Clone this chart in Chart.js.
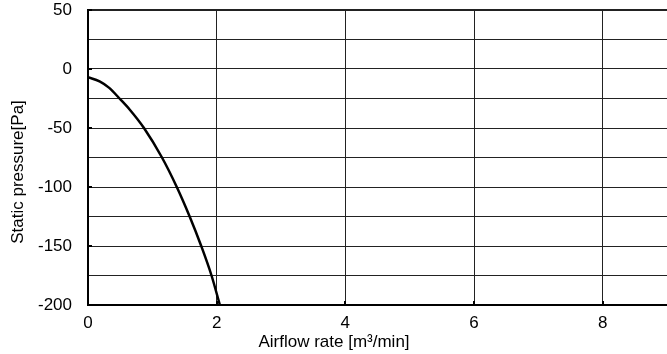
<!DOCTYPE html>
<html>
<head>
<meta charset="utf-8">
<script src="https://cdn.jsdelivr.net/npm/chart.js@4"></script>
<style>
  html, body { margin: 0; padding: 0; background: #fff; }
  .wrap { width: 667px; height: 354px; }
</style>
</head>
<body>
<div class="wrap"><canvas id="chart" width="667" height="354"></canvas></div>
<script>
const airflow = [0, 0.18, 0.33, 0.49, 0.65, 0.87, 1.15, 1.38, 1.58, 1.76, 1.92, 2.05];
const pressure = [-7, -10.5, -16, -25, -34.5, -50, -75, -100, -125, -150, -175, -200];
const xTitle = 'Airflow rate [m\u00B3/min]';
const yTitle = 'Static pressure[Pa]';
const FONT = '"Liberation Sans", Arial, sans-serif';

// axis titles and small inside tick marks
const extras = {
    id: 'extras',
    afterDraw(chart) {
        const ctx = chart.ctx;
        const area = chart.chartArea;
        const xs = chart.scales.x, ys = chart.scales.y;
        ctx.save();
        ctx.strokeStyle = '#000';
        ctx.lineWidth = 2;
        ys.ticks.forEach(t => {
            if (t.value % 50 !== 0) return;
            const y = Math.round(ys.getPixelForValue(t.value));
            ctx.beginPath();
            ctx.moveTo(area.left, y);
            ctx.lineTo(area.left + 4, y);
            ctx.stroke();
        });
        xs.ticks.forEach(t => {
            const x = Math.round(xs.getPixelForValue(t.value));
            ctx.beginPath();
            ctx.moveTo(x, area.bottom);
            ctx.lineTo(x, area.bottom - 4);
            ctx.stroke();
        });
        ctx.fillStyle = '#000';
        ctx.font = '17px ' + FONT;
        ctx.textAlign = 'center';
        ctx.textBaseline = 'middle';
        ctx.fillText(xTitle, 334, 342);
        ctx.translate(18, 172);
        ctx.rotate(-Math.PI / 2);
        ctx.fillText(yTitle, 0, 0);
        ctx.restore();
    }
};

new Chart(document.getElementById('chart'), {
    type: 'line',
    data: {
        datasets: [{
            data: airflow.map((x, i) => ({ x: x, y: pressure[i] })),
            borderColor: '#000',
            borderWidth: 2.5,
            pointRadius: 0,
            cubicInterpolationMode: 'monotone',
            fill: false,
        }],
    },
    options: {
        responsive: false,
        animation: false,
        layout: { padding: { top: 10, right: 0, left: 0, bottom: 0 } },
        plugins: { legend: { display: false }, tooltip: { enabled: false } },
        scales: {
            x: {
                type: 'linear',
                min: 0,
                max: 9,
                afterFit: s => { s.height = 49; s.paddingLeft = 0; s.paddingRight = 0; },
                ticks: {
                    stepSize: 2,
                    includeBounds: false,
                    maxRotation: 0,
                    padding: 8,
                    color: '#000',
                    font: { size: 17, family: FONT },
                },
                grid: { color: '#222', lineWidth: 1, drawTicks: false },
                border: { color: '#000', width: 2 },
            },
            y: {
                min: -200,
                max: 50,
                afterFit: s => { s.width = 88; s.paddingTop = 0; s.paddingBottom = 0; },
                ticks: {
                    stepSize: 25,
                    padding: 16,
                    color: '#000',
                    font: { size: 17, family: FONT },
                    callback: v => (v % 50 === 0 ? v : ''),
                },
                grid: {
                    color: '#222',
                    lineWidth: c => (c.tick && c.tick.value === 50 ? 2 : 1),
                    drawTicks: false,
                },
                border: { color: '#000', width: 2 },
            },
        },
    },
    plugins: [extras],
});
</script>
</body>
</html>
